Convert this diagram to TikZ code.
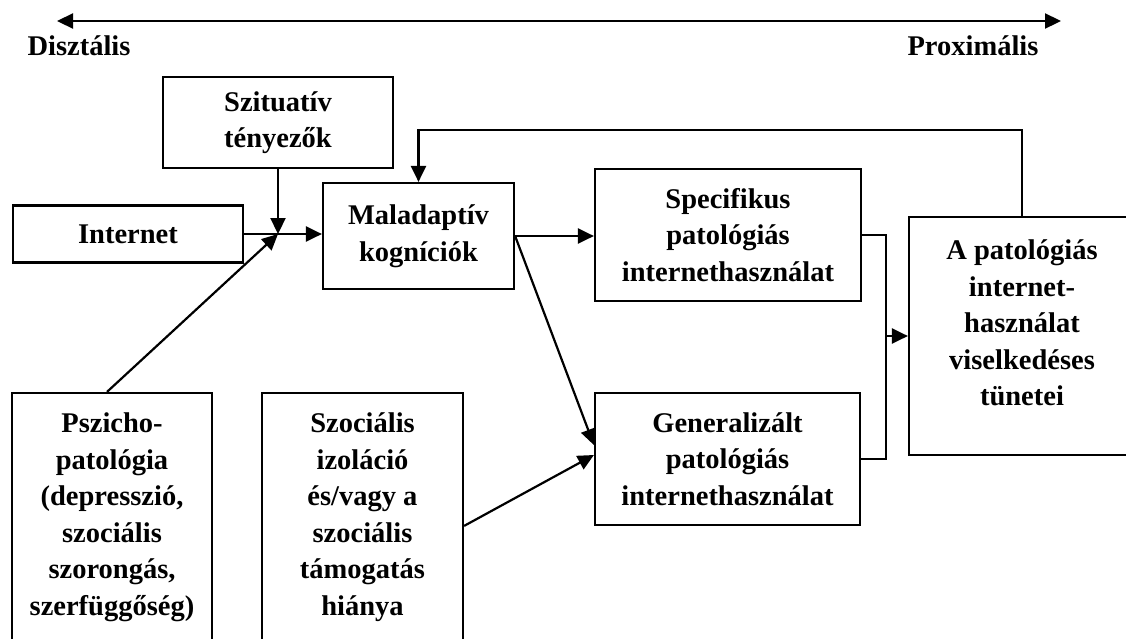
\documentclass[tikz,border=0pt]{standalone}
\usepackage{fontspec}
\setmainfont{Liberation Serif}
\usetikzlibrary{positioning, arrows.meta, calc}

\begin{document}
\begin{tikzpicture}[
    x=1pt, y=-1pt,
    font=\fontsize{28.5}{36.5}\selectfont\bfseries,
    >={Triangle[length=16pt,width=15pt]},
    box/.style   ={rectangle, draw=black, line width=2.2pt, align=center, inner sep=0pt},
    boxtext/.style={align=center, inner sep=0pt, anchor=north},
    axislabel/.style={inner sep=0pt},
    arrow/.style ={->, line width=2.2pt},
    link/.style  ={line width=2.2pt},
]
\clip (0,0) rectangle (1126,638);

%==================== AXIS ====================

\coordinate (axl) at (57,21);
\coordinate (axr) at (1061,21);
\draw[<->, line width=2.2pt] (axl) -- (axr);
\node[axislabel] (dist) at (79,46) {Disztális};
\node[axislabel] (prox) at (973,46) {Proximális};

%==================== BOXES ====================

\node[box, minimum width=230, minimum height=91] (situ) at (278,122.5) {Szituatív\\tényezők};
\node[box, minimum width=230, minimum height=57] (inet) at (128,234) {Internet};
\node[box, minimum width=191, minimum height=106] (malad) at (418.5,236) {Maladaptív\\kogníciók};
\node[box, minimum width=266, minimum height=132] (spec) at (728,235) {Specifikus\\patológiás\\internethasználat};
\node[box, minimum width=265, minimum height=132] (gener) at (727.5,459) {Generalizált\\patológiás\\internethasználat};

\node[box, minimum width=226, minimum height=238,
      label={[boxtext, yshift=-24pt]north:{A patológiás\\internet-\\használat\\viselkedéses\\tünetei}}] (symp) at (1022,336) {};

\node[box, minimum width=200, minimum height=260,
      label={[boxtext, yshift=-21pt]north:{Pszicho-\\patológia\\(depresszió,\\szociális\\szorongás,\\szerfüggőség)}}] (psy) at (112,523) {};
\node[box, minimum width=201, minimum height=260,
      label={[boxtext, yshift=-21pt]north:{Szociális\\izoláció\\és/vagy a\\szociális\\támogatás\\hiánya}}] (soc) at (362.5,523) {};

%==================== ARROWS ====================

\coordinate (junc) at (278,234);
\draw[arrow] (situ.south) -- (junc);
\draw[arrow] (inet.east) -- (inet.east -| malad.west);
\draw[arrow] ([xshift=-5pt]psy.north) -- (junc);

\draw[arrow] (malad.east) -- (malad.east -| spec.west);
\draw[arrow] (malad.east) -- ([yshift=14pt]gener.west);
\draw[arrow] ([yshift=-134pt]soc.north east) -- ([yshift=4pt]gener.west);

\coordinate (mrg) at (886,336);
\draw[link] (spec.east) -| (mrg) |- (gener.east);
\draw[arrow] (mrg) -- (symp.west);

% feedback loop
\draw[arrow] (symp.north) -- ++(0,-86) -| (malad.north);

\end{tikzpicture}
\end{document}
